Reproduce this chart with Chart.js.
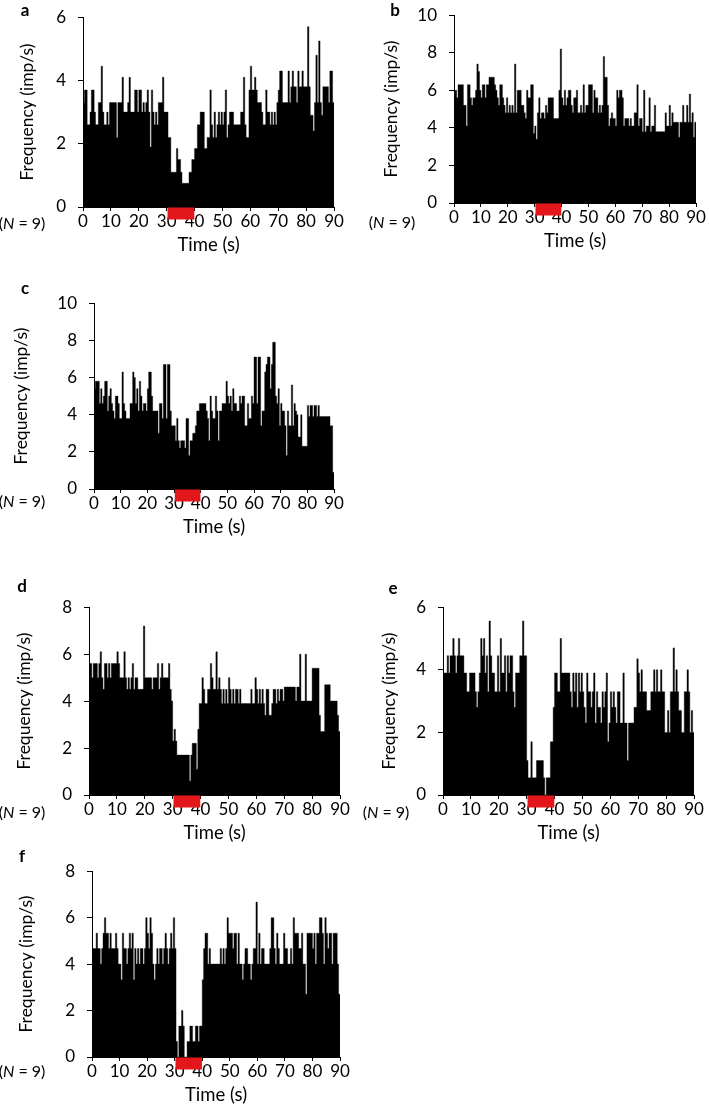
<!DOCTYPE html>
<html>
<head>
<meta charset="utf-8">
<script src="https://cdn.jsdelivr.net/npm/chart.js@4.4.1/dist/chart.umd.min.js"></script>
<style>
  html, body { margin: 0; padding: 0; background: #fff; }
  #page { position: relative; width: 709px; height: 1113px; overflow: hidden; font-family: Lato, "DejaVu Sans", sans-serif; color: #000; }
  canvas { position: absolute; }
  .letter { position: absolute; font-weight: bold; font-size: 17px; transform: translate(-50%, -50%); }
  .nlab { position: absolute; font-size: 16px; transform: translate(-50%, -50%); white-space: nowrap; }
</style>
</head>
<body>
<div id="page"></div>
<script>
// ---- data (0.5 s bins, frequency in imp/s) ----
const binWidth = 0.5;
const stimulus = [30.3, 39.9];
const xTickStep = 10;
const panelLetters = ['a', 'b', 'c', 'd', 'e', 'f'];
const nLabel = 9;

const panelA = [
  3.3,3.7,3.7,2.6,2.6,3.0,3.7,3.7,3.0,2.6,
  2.6,3.3,3.3,4.45,3.0,2.6,2.6,3.0,2.6,3.3,
  3.3,3.3,3.3,3.3,2.2,3.3,3.3,3.3,4.1,3.0,
  3.0,3.0,3.3,4.1,3.0,3.0,3.0,3.7,3.7,3.0,
  3.7,3.7,3.0,3.3,3.0,3.3,3.7,3.0,1.9,3.7,
  3.0,2.6,3.0,2.6,3.3,3.3,3.3,4.1,3.0,3.0,
  3.0,2.2,2.2,1.1,1.1,1.1,1.1,1.85,1.5,1.5,
  1.1,0.75,0.75,0.75,0.75,0.75,1.1,1.1,1.5,1.5,
  1.85,1.85,2.6,2.6,3.0,3.0,3.0,1.85,1.85,2.2,
  2.2,3.7,2.6,2.2,3.0,2.2,2.6,3.0,2.6,3.0,
  2.6,3.0,3.7,2.2,2.6,3.0,3.0,3.0,2.6,2.6,
  2.6,2.6,2.6,3.0,3.0,4.1,2.6,2.2,2.2,3.7,
  4.45,3.7,3.7,4.1,3.7,3.3,3.3,3.3,3.0,2.6,
  2.6,3.7,3.0,3.0,2.6,3.0,2.6,3.0,2.6,3.3,
  3.7,4.3,4.3,3.3,3.3,3.3,3.3,4.3,3.3,3.8,
  4.3,3.8,3.8,3.3,4.3,3.8,3.8,4.3,3.8,3.8,
  3.8,5.7,3.8,2.9,2.9,2.4,3.3,4.8,3.3,5.25,
  3.3,2.9,3.8,3.8,3.8,3.8,3.3,4.3,4.3,3.3
];
const panelB = [
  6.0,6.0,5.6,6.3,6.3,6.3,6.3,5.2,5.2,4.1,
  6.3,6.3,5.6,5.2,5.6,5.6,6.0,7.4,7.0,6.0,
  5.6,6.3,6.3,5.6,6.3,6.3,6.7,6.7,6.7,6.7,
  6.3,6.0,5.6,5.2,6.3,6.3,5.6,5.2,4.8,5.6,
  4.8,5.2,4.8,5.2,4.8,7.4,4.8,6.0,6.0,6.0,
  5.2,5.2,4.8,4.5,6.0,5.6,5.6,6.3,6.3,3.7,
  4.1,3.4,4.8,5.6,4.5,4.8,4.8,4.5,5.2,4.8,
  5.6,5.6,5.6,5.6,4.5,4.5,4.5,4.5,6.0,8.2,
  5.6,5.2,6.0,5.2,5.6,6.0,6.0,5.2,4.8,5.6,
  5.6,6.0,4.8,4.8,5.2,4.8,6.3,4.8,5.2,5.2,
  6.3,6.3,6.3,4.8,6.0,5.6,5.6,4.8,5.2,4.8,
  5.2,7.8,6.7,6.7,5.2,4.1,4.5,4.8,4.5,4.5,
  4.1,6.0,5.6,6.0,6.0,5.6,4.1,4.5,4.5,4.5,
  4.1,4.5,4.1,4.1,4.8,4.8,6.3,4.1,4.5,4.5,
  3.8,6.0,3.8,4.1,4.1,5.6,3.8,4.1,4.1,5.2,
  3.8,3.8,3.8,3.8,3.8,3.8,3.8,4.8,4.1,4.1,
  5.2,4.1,4.8,4.3,4.3,4.3,4.3,3.5,4.3,4.3,
  5.2,4.3,4.3,5.2,4.3,5.8,4.3,4.8,3.5,4.3
];
const panelC = [
  5.4,5.8,5.8,5.8,4.6,5.4,4.6,5.0,5.8,5.8,
  4.2,5.0,5.4,4.6,4.2,3.8,5.0,5.0,4.6,3.8,
  3.8,6.3,4.6,4.2,3.8,3.8,3.8,4.6,4.6,6.3,
  6.0,4.6,5.4,4.2,5.8,5.0,4.2,4.6,4.6,4.2,
  5.4,6.3,6.3,5.0,4.2,4.2,4.2,4.2,3.0,4.6,
  4.6,3.8,6.7,6.7,3.8,6.7,6.7,4.2,3.4,3.4,
  3.4,2.6,3.8,2.6,2.2,2.6,2.6,2.6,2.2,3.8,
  3.8,1.8,2.6,2.6,3.0,3.0,3.4,4.2,4.2,4.6,
  4.6,4.6,4.6,4.6,4.2,3.8,2.6,5.0,4.2,3.8,
  3.8,5.0,4.2,2.6,4.2,4.2,4.6,4.6,4.6,5.8,
  5.0,4.6,5.0,4.2,5.4,4.6,4.6,4.2,4.2,5.0,
  4.6,5.0,5.0,3.4,3.4,4.6,3.8,3.8,5.0,4.6,
  7.1,7.1,4.6,7.1,7.1,3.4,4.2,4.2,6.3,6.7,
  7.1,7.1,5.4,6.7,7.9,7.9,5.0,4.6,5.4,3.4,
  4.6,4.2,4.2,3.4,1.8,4.2,3.4,3.4,5.6,3.4,
  4.6,4.2,4.0,2.8,2.8,4.0,2.3,2.3,2.3,2.3,
  4.5,3.9,4.5,4.5,3.9,4.5,4.5,3.9,4.5,3.9,
  3.9,3.9,3.9,3.9,3.9,3.9,3.9,3.4,3.4,0.9
];
const panelD = [
  5.6,5.6,5.0,5.6,5.6,5.6,5.0,5.6,6.1,5.0,
  4.5,5.6,5.6,5.0,5.6,5.0,5.6,5.6,5.6,5.6,
  6.1,5.6,5.0,5.0,5.0,6.1,5.0,4.5,5.0,4.5,
  5.0,5.6,4.5,5.0,5.0,4.5,4.5,4.5,4.5,7.2,
  5.0,5.0,5.0,5.0,5.0,4.5,5.0,5.0,5.0,5.6,
  4.5,5.0,5.6,5.0,5.0,5.0,5.0,5.6,4.5,4.0,
  2.3,2.8,2.3,1.7,1.7,1.7,1.7,1.7,1.7,1.7,
  1.7,1.7,0.6,1.7,2.2,2.2,2.2,1.1,2.8,3.9,
  3.9,5.0,4.5,3.9,3.9,4.5,4.5,5.6,5.0,4.5,
  4.5,6.1,4.5,5.0,4.5,3.9,4.5,3.9,4.5,3.9,
  5.0,4.5,3.9,4.5,3.9,4.5,4.5,3.9,4.5,3.9,
  3.9,3.9,3.9,3.9,3.9,3.9,4.5,3.9,3.9,5.0,
  4.5,3.9,4.5,3.9,4.5,3.9,3.4,4.5,4.5,3.4,
  3.4,3.9,4.5,4.5,3.9,4.5,4.0,4.5,4.5,4.0,
  4.6,4.6,4.6,4.6,4.6,4.6,4.6,4.6,4.0,4.6,
  4.6,6.0,4.0,4.0,4.0,6.0,4.0,4.0,4.0,4.0,
  5.4,5.4,5.4,5.4,5.4,3.4,2.7,2.7,2.7,4.7,
  4.7,4.7,4.7,4.0,4.0,4.0,4.0,4.0,3.4,2.7
];
const panelE = [
  3.9,3.9,3.9,4.45,3.9,4.45,4.45,5.0,4.45,3.9,
  4.45,5.0,4.45,4.45,4.45,3.9,3.9,3.3,3.3,3.9,
  3.9,3.9,3.9,3.3,2.8,3.3,3.9,5.0,4.45,5.0,
  3.9,4.45,3.3,5.56,4.45,3.9,3.9,3.3,3.3,4.45,
  3.3,5.0,3.9,3.9,4.45,3.3,4.45,3.9,4.45,4.45,
  3.3,2.8,3.9,3.9,3.9,4.45,4.45,5.56,4.45,4.45,
  1.1,0.55,0.55,1.7,0.55,0.55,0.55,1.1,1.1,1.1,
  1.1,1.1,0.55,0.0,0.55,0.55,0.55,1.7,1.7,2.8,
  3.9,3.9,3.3,3.3,5.0,3.9,3.9,3.9,3.9,3.9,
  3.9,3.3,2.8,3.9,3.3,3.9,2.8,3.9,3.3,3.9,
  3.3,2.8,2.3,3.9,3.3,3.3,2.8,3.3,3.9,2.3,
  3.3,2.8,2.8,2.3,3.3,2.8,3.3,3.9,1.7,2.3,
  3.3,2.8,3.3,2.8,2.3,3.3,3.3,2.3,2.3,3.9,
  2.3,2.3,1.1,2.3,2.3,2.3,2.3,2.8,2.8,4.35,
  3.9,3.3,4.0,3.3,3.3,3.3,2.7,2.7,2.7,3.3,
  3.3,4.0,3.3,4.0,3.3,3.3,4.0,3.3,3.3,2.0,
  2.0,2.7,2.0,3.3,3.3,4.7,3.3,4.0,3.3,2.7,
  2.7,2.0,2.0,3.3,3.3,4.0,3.3,2.0,2.7,2.0
];
const panelF = [
  4.67,4.67,4.67,5.33,4.67,4.67,4.0,4.67,5.33,6.0,
  5.33,5.33,4.67,5.33,4.67,4.67,4.67,5.33,4.67,4.0,
  4.0,3.33,5.33,4.67,4.67,4.0,4.67,5.33,4.67,5.33,
  3.33,4.67,4.0,4.67,4.0,4.67,4.67,4.0,4.67,6.0,
  5.33,4.67,6.0,5.33,4.0,3.33,4.0,4.67,4.0,4.67,
  4.67,4.0,4.67,5.33,4.67,4.0,4.67,5.33,4.67,6.0,
  4.67,0.67,0.0,1.33,1.33,2.0,1.33,0.0,0.0,0.67,
  0.67,1.33,1.33,0.67,0.67,1.33,1.33,0.67,1.33,1.33,
  3.33,4.67,5.33,5.33,4.0,4.67,4.0,4.0,4.0,4.0,
  4.0,4.0,4.0,4.67,4.0,4.67,4.0,4.67,6.0,5.33,
  5.33,5.33,4.67,5.33,5.33,4.0,5.33,4.0,4.0,3.33,
  4.0,4.67,4.67,4.0,4.0,3.33,4.0,4.67,4.67,6.67,
  4.0,5.33,4.0,4.67,4.67,4.0,4.0,4.0,4.0,4.67,
  6.0,6.0,4.67,4.0,5.33,4.67,4.0,4.0,4.0,5.33,
  4.67,4.67,4.0,4.0,4.67,4.0,6.0,5.33,5.33,5.33,
  4.67,4.67,5.33,4.0,4.0,2.7,5.33,5.33,5.33,5.33,
  4.67,5.33,4.0,5.33,5.33,6.0,6.0,5.33,4.0,6.0,
  5.33,4.67,5.33,5.33,4.0,5.33,5.33,5.33,4.0,2.7
];
const yMaxes = [6, 10, 10, 8, 6, 8];

// ---- layout (page coordinates of each plot area) ----
const layouts = [
  { l: 83,  t: 7,   r: 334, b: 207,  titleOff: 55, letter: [25, 9],   nlab: [22, 222] },
  { l: 454, t: 5,   r: 696, b: 203,  titleOff: 62, letter: [395, 9],  nlab: [392, 221] },
  { l: 94,  t: 293, r: 334, b: 489,  titleOff: 72, letter: [25, 287], nlab: [22, 500] },
  { l: 89,  t: 597, r: 340, b: 795,  titleOff: 64, letter: [22, 585], nlab: [22, 811] },
  { l: 443, t: 597, r: 694, b: 795,  titleOff: 53, letter: [393, 587],nlab: [386, 811] },
  { l: 92,  t: 861, r: 340, b: 1057, titleOff: 65, letter: [22, 855], nlab: [22, 1070] }
];
const seriesList = [panelA, panelB, panelC, panelD, panelE, panelF];

const PAD_T = 12, PAD_R = 14, XH = 52;
const RED = '#e3161c';

Chart.defaults.font.family = 'Lato, "DejaVu Sans", sans-serif';
Chart.defaults.color = '#000';

const page = document.getElementById('page');

function toPoints(vals) {
  const pts = vals.map((v, i) => ({ x: i * binWidth, y: v }));
  pts.push({ x: vals.length * binWidth, y: vals[vals.length - 1] });
  return pts;
}

const stimPlugin = {
  id: 'stim',
  afterDraw(chart) {
    const xs = chart.scales.x;
    const x0 = xs.getPixelForValue(stimulus[0]);
    const x1 = xs.getPixelForValue(stimulus[1]);
    const ctx = chart.ctx;
    ctx.save();
    ctx.fillStyle = RED;
    ctx.fillRect(x0, chart.chartArea.bottom + 0.5, x1 - x0, 12);
    ctx.restore();
  }
};

seriesList.forEach((vals, k) => {
  const L = layouts[k];
  const Yw = L.titleOff + 11;
  const cv = document.createElement('canvas');
  const w = Yw + (L.r - L.l) + PAD_R;
  const h = PAD_T + (L.b - L.t) + XH;
  cv.width = w; cv.height = h;
  cv.style.left = (L.l - Yw) + 'px';
  cv.style.top = (L.t - PAD_T) + 'px';
  cv.style.width = w + 'px';
  cv.style.height = h + 'px';
  page.appendChild(cv);

  new Chart(cv, {
    type: 'line',
    data: {
      datasets: [{
        data: toPoints(vals),
        stepped: true,
        fill: 'origin',
        backgroundColor: '#000',
        borderColor: '#000',
        borderWidth: 0.4,
        pointRadius: 0,
        tension: 0
      }]
    },
    options: {
      responsive: false,
      animation: false,
      devicePixelRatio: 1,
      layout: { padding: { top: PAD_T, right: PAD_R, left: 0, bottom: 0 } },
      plugins: { legend: { display: false }, tooltip: { enabled: false } },
      scales: {
        x: {
          type: 'linear', min: 0, max: 90,
          ticks: { stepSize: xTickStep, font: { size: 17 }, color: '#000', padding: 0, maxRotation: 0, autoSkip: false },
          grid: { drawOnChartArea: false, drawTicks: true, tickLength: 4, color: '#000', lineWidth: 1 },
          border: { display: true, color: '#000', width: 1 },
          title: { display: true, text: 'Time (s)', font: { size: 18.5 }, color: '#000', padding: { top: 0, bottom: 3 } },
          afterFit: s => { s.height = XH; }
        },
        y: {
          min: 0, max: yMaxes[k],
          ticks: { stepSize: 2, font: { size: 17 }, color: '#000', padding: 12 },
          grid: { drawOnChartArea: false, drawTicks: true, tickLength: 5, color: '#000', lineWidth: 1 },
          border: { display: true, color: '#000', width: 1 },
          title: { display: true, text: 'Frequency (imp/s)', font: { size: 17.5 }, color: '#000', padding: { top: 0, bottom: 0 } },
          afterFit: s => { s.width = Yw; }
        }
      }
    },
    plugins: [stimPlugin]
  });

  const lt = document.createElement('div');
  lt.className = 'letter';
  lt.textContent = panelLetters[k];
  lt.style.left = L.letter[0] + 'px';
  lt.style.top = L.letter[1] + 'px';
  page.appendChild(lt);

  const nl = document.createElement('div');
  nl.className = 'nlab';
  nl.innerHTML = '(<i>N</i> = ' + nLabel + ')';
  nl.style.left = L.nlab[0] + 'px';
  nl.style.top = L.nlab[1] + 'px';
  page.appendChild(nl);
});
</script>
</body>
</html>
